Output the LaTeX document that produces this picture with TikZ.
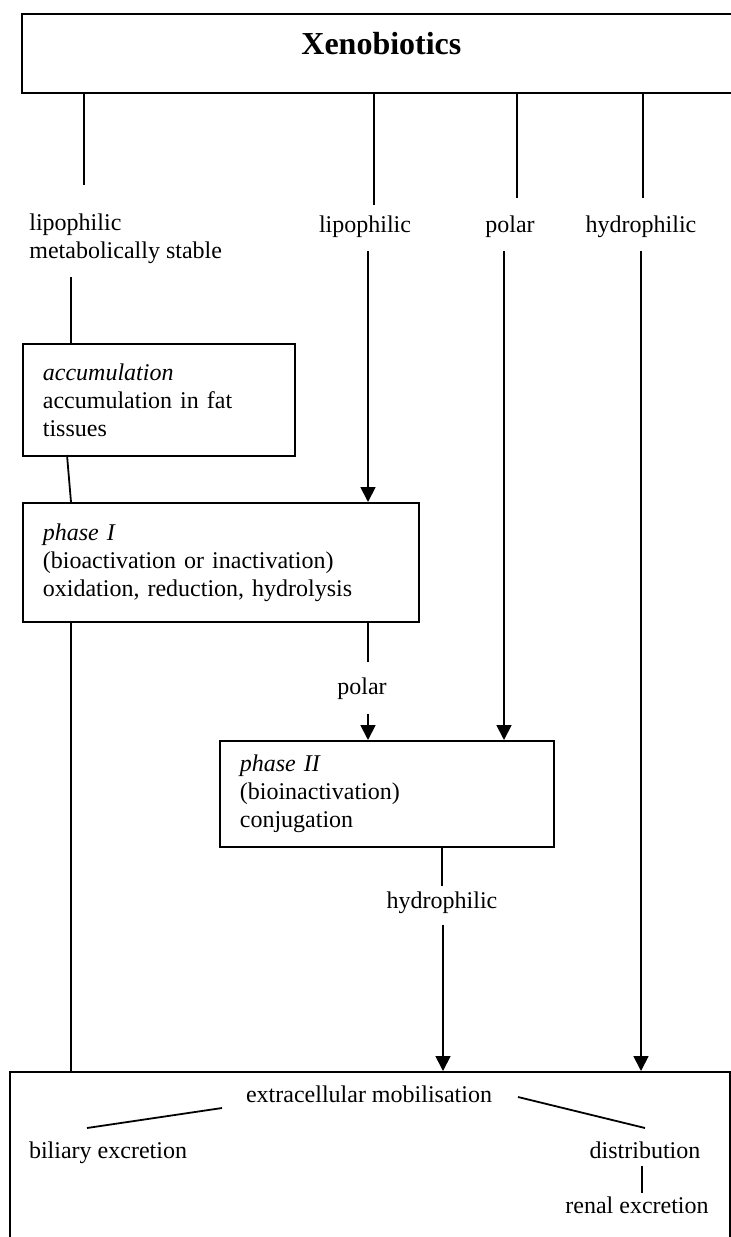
\documentclass[tikz,border=0pt]{standalone}
\usepackage{fontspec}
\setmainfont{Liberation Serif}
\usetikzlibrary{arrows.meta}

\tikzset{
  every node/.style={font=\fontsize{12}{14}\selectfont},
  procbox/.style={draw, line width=0.9pt, anchor=north west, inner xsep=10pt, inner ysep=0pt, align=left},
  flow/.style={line width=0.9pt},
  flowarrow/.style={line width=0.9pt, -{Triangle[length=7.5pt,width=7.5pt]}}
}

\begin{document}
\begin{tikzpicture}[x=0.5pt, y=-0.5pt]
  \useasboundingbox (0,0) rectangle (731,1237);
  \clip (0,0) rectangle (731,1237);

  % top box
  \node[procbox, inner xsep=0pt, minimum width=359.5pt, minimum height=39.5pt,
        font=\fontsize{16}{19}\selectfont\bfseries, text height=11pt, text depth=9.5pt] (xeno) at (21,13) {Xenobiotics};

  % labels below the top box
  \node[anchor=base west, align=left, inner sep=0pt] (lipostable) at (29,258) {lipophilic\\metabolically stable};
  \node[anchor=base] (lipo)  at (365,232) {lipophilic};
  \node[anchor=base] (polar) at (510,232) {polar};
  \node[anchor=base] (hydro) at (641,232) {hydrophilic};

  % processing boxes
  \node[procbox, minimum width=136pt, minimum height=56pt, text width=116pt] (accum) at (22,343)
    {\textit{accumulation}\\accumulation in fat\\tissues};
  \node[procbox, minimum width=198pt, minimum height=59.5pt, text width=178pt] (phaseone) at (22,502)
    {\textit{phase I}\\(bioactivation or inactivation)\\oxidation, reduction, hydrolysis};
  \node[procbox, minimum width=167pt, minimum height=53pt, text width=147pt] (phasetwo) at (219,740)
    {\textit{phase II}\\(bioinactivation)\\conjugation};

  % intermediate labels
  \node[anchor=base] (polartwo) at (362,694) {polar};
  \node[anchor=base] (hydrotwo) at (442,908) {hydrophilic};

  % bottom box
  \node[procbox, inner sep=0pt, minimum width=360pt, minimum height=100pt] (mobilbox) at (9,1071) {};
  \node[anchor=base] (mobil) at (369,1102) {extracellular mobilisation};
  \node[anchor=base] (bil)   at (108,1158) {biliary excretion};
  \node[anchor=base] (distr) at (645,1158) {distribution};
  \node[anchor=base] (renal) at (637,1213) {renal excretion};

  % free ends of the connectors
  \coordinate (ls1) at (84,185);
  \coordinate (ls2) at (71,277);
  \coordinate (ac1) at (67,455);
  \coordinate (lp1) at (374,205);
  \coordinate (lp2) at (368,251);
  \coordinate (po1) at (517,198);
  \coordinate (po2) at (504,251);
  \coordinate (hy1) at (643,198);
  \coordinate (hy2) at (641,251);
  \coordinate (pt1) at (368,662);
  \coordinate (pt2) at (368,714);
  \coordinate (ht1) at (442,886);
  \coordinate (ht2) at (443,925);
  \coordinate (mb1) at (222,1108);
  \coordinate (mb2) at (87,1128);
  \coordinate (mb3) at (518,1097);
  \coordinate (mb4) at (645,1128);
  \coordinate (rn1) at (642,1166);
  \coordinate (rn2) at (642,1193);

  % lines from the top box
  \foreach \c in {ls1,lp1,po1,hy1}
    \draw[flow] (xeno.south -| \c) -- (\c);

  % left branch
  \draw[flow] (ls2) -- (accum.north -| ls2);
  \draw[flow] (ac1) -- (phaseone.north -| ls2);
  \draw[flow] (phaseone.south -| ls2) -- (mobilbox.north -| ls2);

  % arrows down
  \draw[flowarrow] (lp2) -- (phaseone.north -| lp2);
  \draw[flowarrow] (po2) -- (phasetwo.north -| po2);
  \draw[flowarrow] (hy2) -- (mobilbox.north -| hy2);

  % phase I to phase II
  \draw[flow] (phaseone.south -| pt1) -- (pt1);
  \draw[flowarrow] (pt2) -- (phasetwo.north -| pt2);

  % phase II to bottom box
  \draw[flow] (phasetwo.south -| ht1) -- (ht1);
  \draw[flowarrow] (ht2) -- (mobilbox.north -| ht2);

  % inside the bottom box
  \draw[flow] (mb1) -- (mb2);
  \draw[flow] (mb3) -- (mb4);
  \draw[flow] (rn1) -- (rn2);

\end{tikzpicture}
\end{document}
